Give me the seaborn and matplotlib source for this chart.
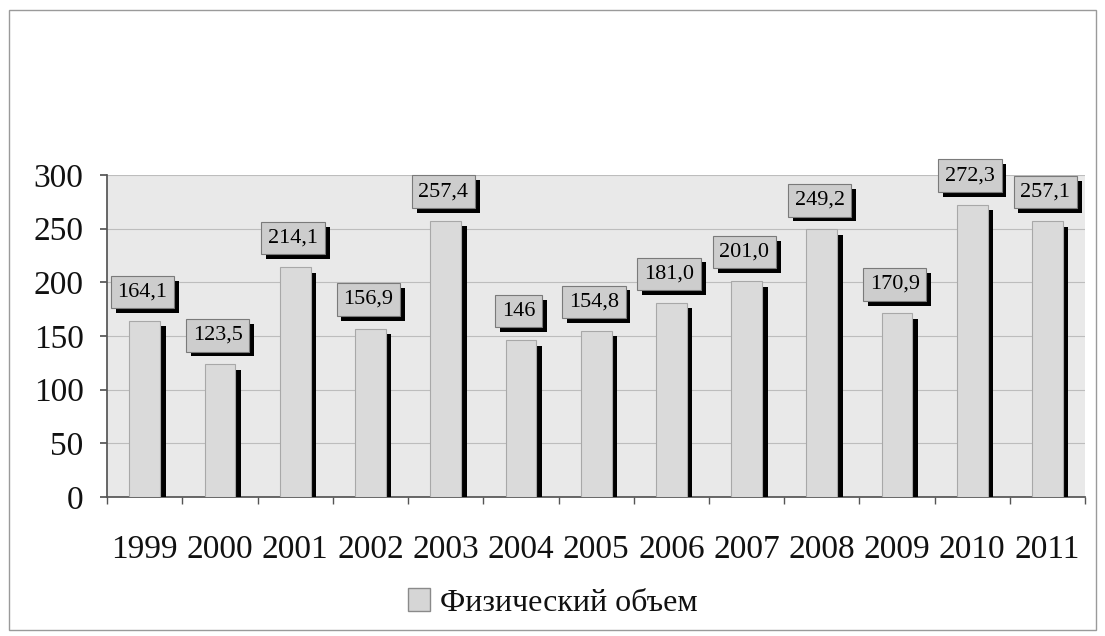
import pandas as pd
import numpy as np
import matplotlib.pyplot as plt
import matplotlib.patheffects as pe
from matplotlib.patches import Patch, Rectangle
import seaborn as sns

# данные
years = ["1999", "2000", "2001", "2002", "2003", "2004", "2005",
         "2006", "2007", "2008", "2009", "2010", "2011"]
volume = [164.1, 123.5, 214.1, 156.9, 257.4, 146.0, 154.8,
          181.0, 201.0, 249.2, 170.9, 272.3, 257.1]
value_labels = ["164,1", "123,5", "214,1", "156,9", "257,4", "146", "154,8",
                "181,0", "201,0", "249,2", "170,9", "272,3", "257,1"]
y_ticks = [0, 50, 100, 150, 200, 250, 300]
series_name = "Физический объем"

df = pd.DataFrame({"year": years, "volume": volume})

sns.set_theme(style="white")
plt.rcParams['font.family'] = ['Liberation Serif', 'DejaVu Serif']

fig = plt.figure(figsize=(11.05, 6.36), dpi=100)
ax = fig.add_axes([0.097, 0.2186, 0.885, 0.5064])
ax.set_facecolor("#e9e9e9")

# рамка вокруг всей картинки
fig.patches.append(Rectangle((0.008, 0.01), 0.984, 0.975, transform=fig.transFigure,
                             fill=False, edgecolor="#9a9a9a", linewidth=1.0))

sns.barplot(data=df, x="year", y="volume", color="#dadada", width=0.41,
            edgecolor="#a8a8a8", linewidth=0.8, saturation=1, ax=ax, zorder=3)

shadow = [pe.SimplePatchShadow(offset=(4, -4), shadow_rgbFace="black", alpha=1.0), pe.Normal()]
for bar in ax.patches:
    bar.set_path_effects(shadow)

# подписи значений
for i, (v, lab) in enumerate(zip(volume, value_labels)):
    t = ax.text(i - 0.03, v + 27, lab, ha="center", va="center", fontsize=16,
                color="black", zorder=6, clip_on=False,
                bbox=dict(boxstyle="square,pad=0.3", facecolor="#cdcdcd",
                          edgecolor="#7a7a7a", linewidth=0.8))
    t.get_bbox_patch().set_path_effects(
        [pe.SimplePatchShadow(offset=(3.5, -3.5), shadow_rgbFace="black", alpha=1.0), pe.Normal()])

ax.set_ylim(0, 300)
ax.set_xlim(-0.5, len(years) - 0.5)
ax.set_yticks(y_ticks)
ax.yaxis.grid(True, color="#bdbdbd", linewidth=0.8)
ax.set_axisbelow(True)

ax.set_xlabel("")
ax.set_ylabel("")
ax.tick_params(axis="y", labelsize=24, length=5, color="#555555", left=True, pad=12,
               labelcolor="#111111")
ax.tick_params(axis="x", labelsize=24, length=0, pad=27, labelcolor="#111111")
ax.set_xticks(np.arange(-0.5, len(years)), minor=True)
ax.tick_params(axis="x", which="minor", length=5, color="#555555", bottom=True)

for s in ["top", "right"]:
    ax.spines[s].set_visible(False)
ax.spines["left"].set_color("#555555")
ax.spines["bottom"].set_color("#555555")

handles = [Patch(facecolor="#d6d6d6", edgecolor="#8a8a8a", label=series_name)]
fig.legend(handles=handles, loc="center", bbox_to_anchor=(0.5, 0.052), frameon=False,
           fontsize=23, handlelength=0.7, handleheight=0.7, handletextpad=0.3,
           labelcolor="#111111")

fig.savefig("out.png", dpi=100)
